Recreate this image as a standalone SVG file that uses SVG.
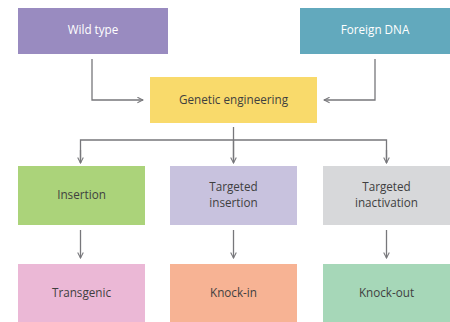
<svg xmlns="http://www.w3.org/2000/svg" width="450" height="322" viewBox="0 0 450 322">
  <defs>
    <style>
      .lbl { font-family: "Open Sans", "Liberation Sans", sans-serif; font-size: 11.7px; text-anchor: middle; fill: #3f3f3f; }
      .lbl.light { fill: #ffffff; }
      .wire { fill: none; stroke: #77777b; stroke-width: 1.3; }
    </style>
    <marker id="head" viewBox="0 0 10 10" refX="9" refY="5" markerWidth="7" markerHeight="7" markerUnits="userSpaceOnUse" orient="auto">
      <path d="M1,1 L9,5 L1,9" fill="none" stroke="#77777b" stroke-width="1.5"/>
    </marker>
  </defs>
  <rect width="450" height="322" fill="#ffffff"/>

  <g id="connectors" class="wire">
    <path d="M92,59 V100 H143" marker-end="url(#head)"/>
    <path d="M375,59 V100 H324" marker-end="url(#head)"/>
    <path d="M233.5,127 V162"/>
    <path d="M80.5,163 V140 H386.5 V163"/>
    <path d="M233.5,140 V163" marker-end="url(#head)"/>
    <path d="M80.5,150 V163" marker-end="url(#head)"/>
    <path d="M386.5,150 V163" marker-end="url(#head)"/>
    <path d="M80.5,230 V258" marker-end="url(#head)"/>
    <path d="M233.5,230 V258" marker-end="url(#head)"/>
    <path d="M386.5,230 V258" marker-end="url(#head)"/>
  </g>

  <g id="wild-type">
    <rect x="18" y="8" width="150" height="46" fill="#998bc0"/>
    <text class="lbl light" x="93" y="34">Wild type</text>
  </g>
  <g id="foreign-dna">
    <rect x="300" y="8" width="150" height="46" fill="#62a9bd"/>
    <text class="lbl light" x="375" y="34">Foreign DNA</text>
  </g>
  <g id="genetic-engineering">
    <rect x="150" y="77" width="167" height="46" fill="#f9da6b"/>
    <text class="lbl" x="233.5" y="104">Genetic engineering</text>
  </g>

  <g id="insertion">
    <rect x="18" y="166" width="127" height="59" fill="#abd37a"/>
    <text class="lbl" x="81.5" y="199">Insertion</text>
  </g>
  <g id="targeted-insertion">
    <rect x="170" y="166" width="127" height="59" fill="#c8c2de"/>
    <text class="lbl" x="233.5" y="191">Targeted</text>
    <text class="lbl" x="233.5" y="207">insertion</text>
  </g>
  <g id="targeted-inactivation">
    <rect x="323" y="166" width="127" height="59" fill="#d7d8da"/>
    <text class="lbl" x="386.5" y="191">Targeted</text>
    <text class="lbl" x="386.5" y="207">inactivation</text>
  </g>

  <g id="transgenic">
    <rect x="18" y="264" width="127" height="58" fill="#ebb8d6"/>
    <text class="lbl" x="81.5" y="297">Transgenic</text>
  </g>
  <g id="knock-in">
    <rect x="170" y="264" width="127" height="58" fill="#f7b394"/>
    <text class="lbl" x="233.5" y="297">Knock-in</text>
  </g>
  <g id="knock-out">
    <rect x="323" y="264" width="127" height="58" fill="#a6d7b8"/>
    <text class="lbl" x="386.5" y="297">Knock-out</text>
  </g>
</svg>
